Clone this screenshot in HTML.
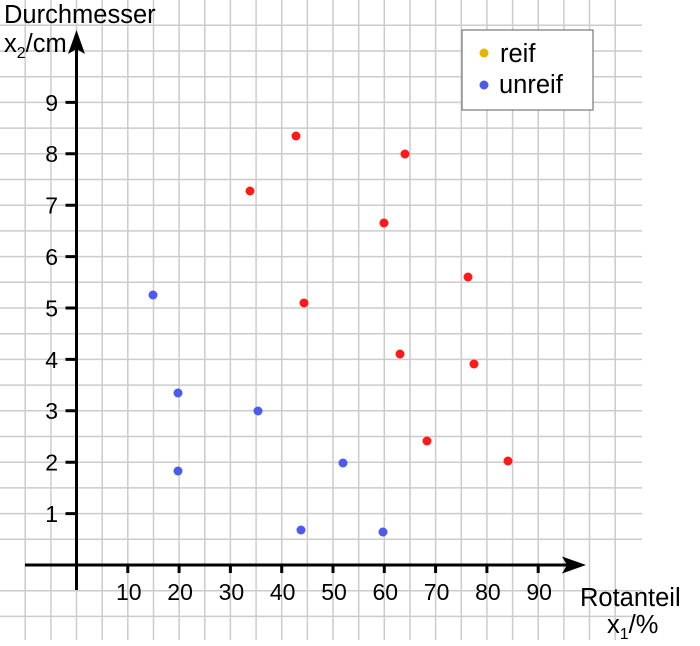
<!DOCTYPE html>
<html><head><meta charset="utf-8"><style>body{margin:0;background:#fff}svg{display:block}</style></head><body>
<svg width="700" height="646" xmlns="http://www.w3.org/2000/svg" font-family="Liberation Sans, sans-serif">
<rect width="700" height="646" fill="#fff"/>
<g stroke="#cccccc" stroke-width="1.5">
<path d="M25.2 0V640M50.9 0V640M76.5 0V640M102.2 0V640M127.8 0V640M153.5 0V640M179.1 0V640M204.8 0V640M230.4 0V640M256.1 0V640M281.7 0V640M307.4 0V640M333 0V640M358.7 0V640M384.3 0V640M410 0V640M435.6 0V640M461.3 0V640M486.9 0V640M512.6 0V640M538.2 0V640M563.9 0V640M589.5 0V640M615.2 0V640"/>
<path d="M0 25.3H642M0 51H642M0 76.7H642M0 102.4H642M0 128.1H642M0 153.8H642M0 179.5H642M0 205.2H642M0 230.9H642M0 256.6H642M0 282.3H642M0 308H642M0 333.7H642M0 359.4H642M0 385.1H642M0 410.8H642M0 436.5H642M0 462.2H642M0 487.9H642M0 513.6H642M0 539.3H642M0 590.7H642M0 616.4H642"/>
</g>
<rect x="462" y="30" width="131" height="80" fill="#fff" stroke="#777" stroke-width="1.2"/>
<g stroke="#000" stroke-width="3" fill="none">
<path d="M25 565H570"/><path d="M76.5 590V45"/>
<path d="M127.8 565v8M179.1 565v8M230.4 565v8M281.7 565v8M333 565v8M384.3 565v8M435.6 565v8M486.9 565v8M538.2 565v8"/>
<path d="M76.5 513.6h-11M76.5 462.2h-11M76.5 410.8h-11M76.5 359.4h-11M76.5 308h-11M76.5 256.6h-11M76.5 205.2h-11M76.5 153.8h-11M76.5 102.4h-11"/>
</g>
<path d="M76.5 30L68 54L76.5 49L85 54Z" fill="#000"/>
<path d="M586 565L562 556.5L567 565L562 573.5Z" fill="#000"/>
<g font-size="23" fill="#000" text-anchor="middle">
<text x="128.8" y="600">10</text><text x="180.1" y="600">20</text><text x="231.4" y="600">30</text><text x="282.7" y="600">40</text><text x="334" y="600">50</text><text x="385.3" y="600">60</text><text x="436.6" y="600">70</text><text x="487.9" y="600">80</text><text x="539.2" y="600">90</text>
</g>
<g font-size="23" fill="#000" text-anchor="end">
<text x="58" y="522">1</text><text x="58" y="470.6">2</text><text x="58" y="419.2">3</text><text x="58" y="367.8">4</text><text x="58" y="316.4">5</text><text x="58" y="265">6</text><text x="58" y="213.6">7</text><text x="58" y="162.2">8</text><text x="58" y="110.8">9</text>
</g>
<text x="4" y="23" font-size="25.5">Durchmesser</text>
<text x="4" y="52" font-size="25.5">x<tspan font-size="16" dy="6">2</tspan><tspan dy="-6">/cm</tspan></text>
<text x="580" y="606" font-size="25.5">Rotanteil</text>
<text x="607" y="633" font-size="25.5">x<tspan font-size="16" dy="6">1</tspan><tspan dy="-6">/%</tspan></text>
<circle cx="484" cy="53" r="4.5" fill="#e8b400"/>
<circle cx="484" cy="85" r="4.5" fill="#4c5bea"/>
<text x="500" y="62" font-size="25.5">reif</text>
<text x="499" y="93" font-size="25.5">unreif</text>
<g fill="#ff1a1a">
<circle cx="296" cy="136" r="4.5"/><circle cx="405" cy="154" r="4.5"/><circle cx="250" cy="191" r="4.5"/><circle cx="384" cy="223" r="4.5"/><circle cx="468" cy="277" r="4.5"/><circle cx="304" cy="303" r="4.5"/><circle cx="400" cy="354" r="4.5"/><circle cx="474" cy="364" r="4.5"/><circle cx="427" cy="441" r="4.5"/><circle cx="508" cy="461" r="4.5"/>
</g>
<g fill="#4c5bea">
<circle cx="153" cy="295" r="4.5"/><circle cx="178" cy="393" r="4.5"/><circle cx="258" cy="411" r="4.5"/><circle cx="178" cy="471" r="4.5"/><circle cx="343" cy="463" r="4.5"/><circle cx="301" cy="530" r="4.5"/><circle cx="383" cy="532" r="4.5"/>
</g>
</svg>
</body></html>
